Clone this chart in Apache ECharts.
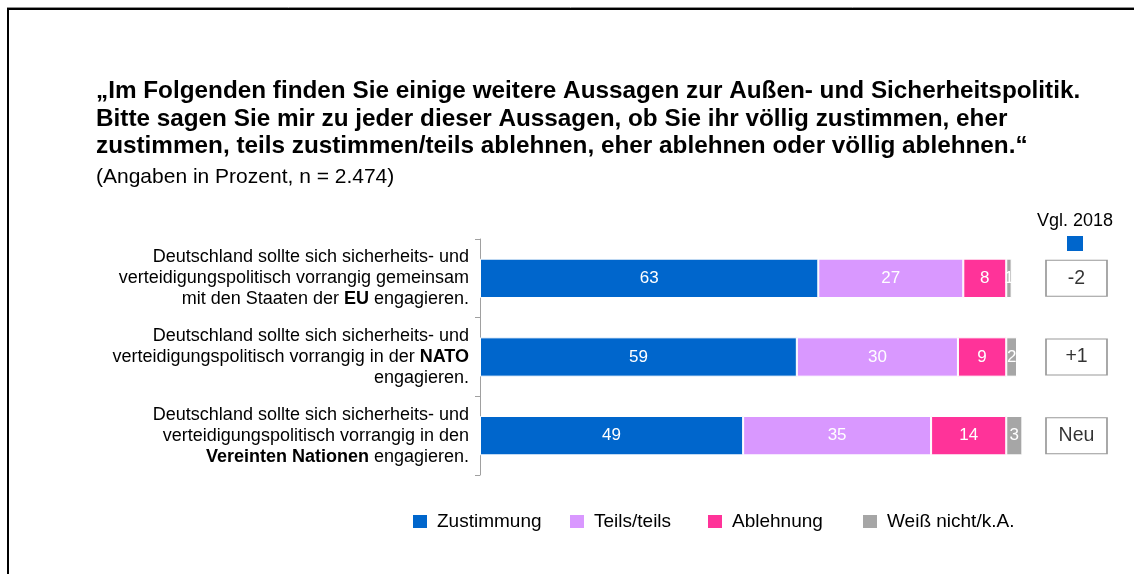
<!DOCTYPE html>
<html><head><meta charset="utf-8">
<script src="https://cdn.jsdelivr.net/npm/echarts@6/dist/echarts.min.js"></script>
<style>html,body{margin:0;padding:0;background:#fff}#c{width:1134px;height:574px}</style>
</head><body><div id="c"></div>
<script>
const categories = [
  'Deutschland sollte sich sicherheits- und\nverteidigungspolitisch vorrangig gemeinsam\nmit den Staaten der {b|EU} engagieren.',
  'Deutschland sollte sich sicherheits- und\nverteidigungspolitisch vorrangig in der {b|NATO}\nengagieren.',
  'Deutschland sollte sich sicherheits- und\nverteidigungspolitisch vorrangig in den\n{b|Vereinten Nationen} engagieren.'
];
const seriesNames = ['Zustimmung', 'Teils/teils', 'Ablehnung', 'Weiß nicht/k.A.'];
const zustimmung = [63, 59, 49];
const teils = [27, 30, 35];
const ablehnung = [8, 9, 14];
const weissNicht = [1, 2, 3];
const vgl2018 = ['-2', '+1', 'Neu'];
const colors = ['#0066CC', '#D998FF', '#FF3399', '#A6A6A6'];
const titleText = '„Im Folgenden finden Sie einige weitere Aussagen zur Außen- und Sicherheitspolitik.\nBitte sagen Sie mir zu jeder dieser Aussagen, ob Sie ihr völlig zustimmen, eher\nzustimmen, teils zustimmen/teils ablehnen, eher ablehnen oder völlig ablehnen.“';
const subtitleText = '(Angaben in Prozent, n = 2.474)';
const compareHeader = 'Vgl. 2018';

const FONT = '"Liberation Sans", Arial, sans-serif';
const chart = echarts.init(document.getElementById('c'), null, {renderer: 'canvas'});
const valueSets = [zustimmung, teils, ablehnung, weissNicht];
const legendLefts = [411, 568, 706, 861];

const option = {
  animation: false,
  backgroundColor: '#fff',
  textStyle: {fontFamily: FONT},
  title: [
    {text: titleText, left: 96, top: 78, padding: 0,
     textStyle: {fontFamily: FONT, fontSize: 24.3, fontWeight: 'bold', lineHeight: 27.5, color: '#000'}},
    {text: subtitleText, left: 96, top: 164, padding: 0,
     textStyle: {fontFamily: FONT, fontSize: 21, fontWeight: 'normal', lineHeight: 26, color: '#000'}}
  ],
  legend: seriesNames.map((n, i) => ({
    data: [n], left: legendLefts[i], top: 512, padding: 0,
    itemWidth: 16, itemHeight: 15, icon: 'rect', selectedMode: false,
    textStyle: {fontFamily: FONT, fontSize: 19, color: '#000', padding: [0, 0, 0, 4]}
  })),
  grid: [
    {left: 480, right: 117, top: 239, bottom: 99},
    {left: 1046, width: 61, top: 239, bottom: 99}
  ],
  xAxis: [
    {type: 'value', min: 0, max: 100, show: false, gridIndex: 0},
    {type: 'value', min: -1, max: 1, show: false, gridIndex: 1}
  ],
  yAxis: [
    {type: 'category', data: categories, inverse: true, gridIndex: 0,
     axisLine: {show: true, lineStyle: {color: '#a0a0a0', width: 1}},
     axisTick: {show: true, length: 5, lineStyle: {color: '#a0a0a0'}},
     axisLabel: {fontFamily: FONT, fontSize: 18, lineHeight: 21, color: '#000', margin: 11,
       rich: {b: {fontFamily: FONT, fontSize: 18, lineHeight: 21, fontWeight: 'bold', color: '#000'}}}
    },
    {type: 'category', data: categories, inverse: true, gridIndex: 1, show: false}
  ],
  series: valueSets.map((vals, i) => ({
    name: seriesNames[i], type: 'bar', stack: 'total', data: vals,
    xAxisIndex: 0, yAxisIndex: 0, barWidth: '50%', clip: false,
    itemStyle: {color: colors[i], borderColor: '#ffffff', borderWidth: 1},
    label: {show: true, position: 'inside', color: '#fff', fontFamily: FONT, fontSize: 17}
  })).concat([{
    type: 'scatter', xAxisIndex: 1, yAxisIndex: 1,
    data: vgl2018.map((t, i) => [0, i]),
    symbol: 'rect', symbolSize: [61, 36],
    itemStyle: {color: '#fff', borderColor: '#808080', borderWidth: 1.3},
    label: {show: true, position: 'inside', color: '#000', fontFamily: FONT, fontSize: 19.5,
      formatter: p => vgl2018[p.dataIndex]},
    emphasis: {disabled: true}
  }]),
  graphic: [
    {type: 'line', shape: {x1: 7, y1: 7.5, x2: 1134, y2: 7.5}, style: {stroke: '#909090', lineWidth: 1}},
    {type: 'line', shape: {x1: 7, y1: 9, x2: 1134, y2: 9}, style: {stroke: '#000', lineWidth: 2}},
    {type: 'line', shape: {x1: 8, y1: 8, x2: 8, y2: 574}, style: {stroke: '#000', lineWidth: 2}},
    {type: 'text', x: 1075, y: 221, style: {text: compareHeader, align: 'center', verticalAlign: 'middle',
      font: '18px ' + FONT, fill: '#000'}},
    {type: 'rect', shape: {x: 1067, y: 236, width: 16, height: 15}, style: {fill: colors[0]}}
  ]
};
chart.setOption(option);
</script>
</body></html>
